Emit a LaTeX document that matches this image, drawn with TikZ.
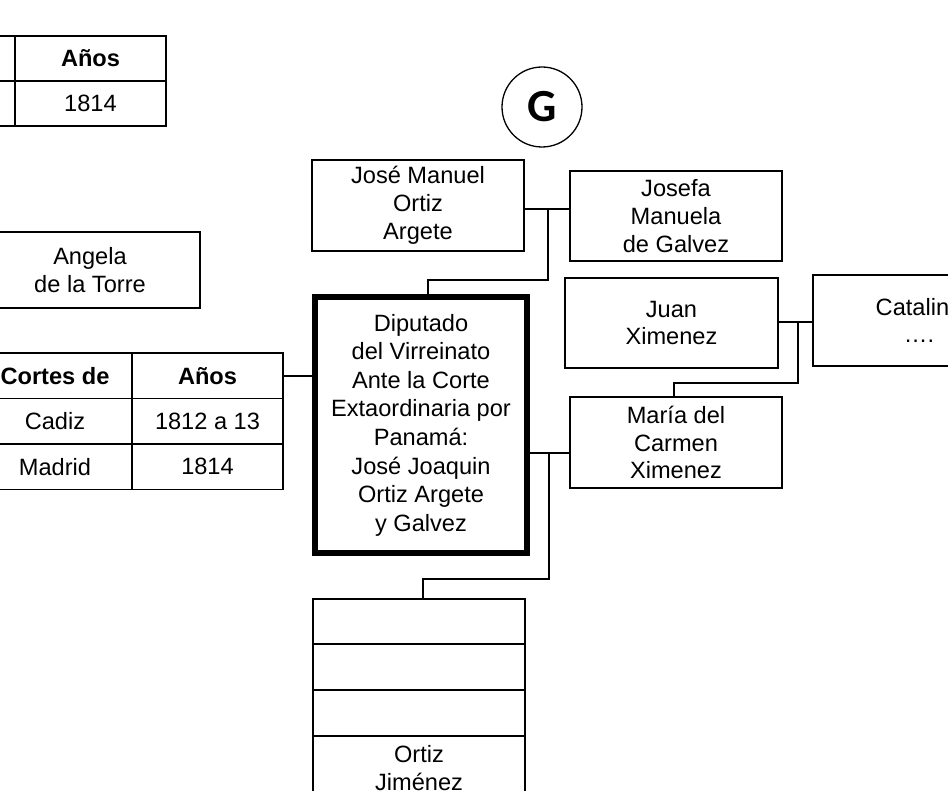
\documentclass[tikz,border=0pt]{standalone}
\usepackage{fontspec}
\setmainfont{Liberation Sans}
\newfontfamily\gfont{Carlito}
\begin{document}
\begin{tikzpicture}[x=1pt,y=-1pt,
  every node/.style={font=\fontsize{23.6}{27.8}\selectfont, align=center, inner sep=0pt, outer sep=0pt},
  box/.style={draw, line width=1.8pt, minimum width=212pt, minimum height=91pt},
  cellA/.style={draw, line width=1.8pt, minimum width=154pt, minimum height=45.5pt},
  cellB/.style={draw, line width=1.8pt, minimum width=151pt, minimum height=45.5pt},
  thickbox/.style={draw, line width=6pt, minimum width=212pt, minimum height=256pt, font=\fontsize{23.6}{28.6}\selectfont},
  conn/.style={line width=1.8pt}]
\useasboundingbox (0,0) rectangle (948,791);
\clip (0,0) rectangle (948,791);

% top table
\node[cellA] (t11) at (-62,58.5) {};
\node[cellB] (t12) at (90.5,58.5) {\textbf{Años}};
\node[cellA] (t21) at (-62,103.5) {};
\node[cellB] (t22) at (90.5,103.5) {1814};

% G circle
\node[draw, circle, line width=1.3pt, minimum size=80pt, font=\gfont\bfseries\fontsize{46}{50}\selectfont] (g) at (542,107) {G};

% Angela
\node[draw, line width=1.8pt, minimum width=220pt, minimum height=76pt] (angela) at (90,270) {Angela\\de la Torre};

% bottom-left table
\node[cellA] (b11) at (55,375.75) {\textbf{Cortes de}};
\node[cellB] (b12) at (207.5,375.75) {\textbf{Años}};
\node[cellA] (b21) at (55,421.25) {Cadiz};
\node[cellB] (b22) at (207.5,421.25) {1812 a 13};
\node[cellA] (b31) at (55,466.75) {Madrid};
\node[cellB] (b32) at (207.5,466.75) {1814};

% persons
\node[box] (jm) at (418,205.5) {José Manuel\\Ortiz\\Argete};
\node[box, minimum height=90pt] (jf) at (676,216) {Josefa\\Manuela\\de Galvez};
\node[box, minimum width=213pt, minimum height=90pt] (juan) at (671.5,323) {Juan\\Ximenez};
\node[box] (cat) at (919,320.5) {Catalina\\….};
\node[box] (maria) at (676,442.5) {María del\\Carmen\\Ximenez};
\node[thickbox] (dip) at (421,425) {Diputado\\del Virreinato\\Ante la Corte\\Extaordinaria por\\Panamá:\\José Joaquin\\Ortiz Argete\\y Galvez};

% bottom stack
\node[box, minimum height=45pt] (s1) at (419,621.5) {};
\node[box, minimum height=46pt] (s2) at (419,667) {};
\node[box, minimum height=46pt] (s3) at (419,713) {};
\node[box, minimum height=64pt] (s4) at (419,768) {Ortiz\\Jiménez};

% connectors
\coordinate (m1) at (548,209);
\coordinate (m1b) at (428,280);
\draw[conn] (jm.east |- m1) -- (jf.west |- m1);
\draw[conn] (m1) |- (m1b) -- (dip.north -| m1b);

\coordinate (m2) at (798,322);
\coordinate (m2b) at (674,383);
\draw[conn] (juan.east |- m2) -- (cat.west |- m2);
\draw[conn] (m2) |- (m2b) -- (maria.north -| m2b);

\coordinate (m3) at (549,453);
\coordinate (m3b) at (423,579);
\draw[conn] (dip.east |- m3) -- (maria.west |- m3);
\draw[conn] (m3) |- (m3b) -- (s1.north -| m3b);

\draw[conn] (b12.east) -- (dip.west |- b12.east);
\end{tikzpicture}
\end{document}
